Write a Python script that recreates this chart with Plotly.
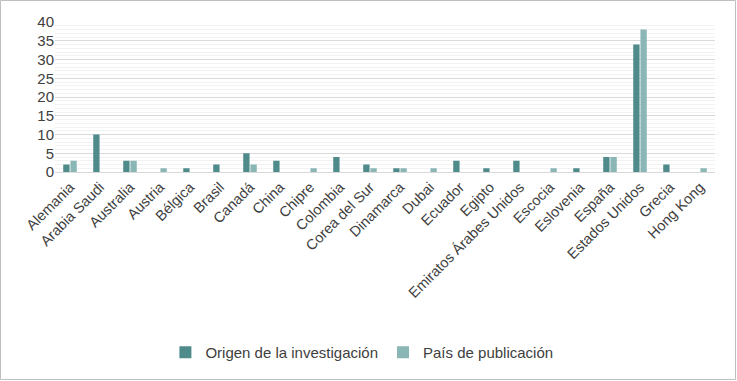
import plotly.graph_objects as go

categories = ["Alemania", "Arabia Saudi", "Australia", "Austria", "Bélgica", "Brasil",
              "Canadá", "China", "Chipre", "Colombia", "Corea del Sur", "Dinamarca",
              "Dubai", "Ecuador", "Egipto", "Emiratos Árabes Unidos", "Escocia",
              "Eslovenia", "España", "Estados Unidos", "Grecia", "Hong Kong"]
origen = [2, 10, 3, 0, 1, 2, 5, 3, 0, 4, 2, 1, 0, 3, 1, 3, 0, 1, 4, 34, 2, 0]
publicacion = [3, 0, 3, 1, 0, 0, 2, 0, 1, 0, 1, 1, 1, 0, 0, 0, 1, 0, 4, 38, 0, 1]
y_ticks = [0, 5, 10, 15, 20, 25, 30, 35, 40]

W, H = 737, 381
ml, mr, mt, mb = 55, 22, 22, 209
pw, ph = W - ml - mr, H - mt - mb

fig = go.Figure()
fig.add_trace(go.Bar(x=categories, y=origen, name="Origen de la investigación",
                     marker=dict(color="#4f8b8b", line=dict(width=0))))
fig.add_trace(go.Bar(x=categories, y=publicacion, name="País de publicación",
                     marker=dict(color="#8bb6b6", line=dict(width=0))))

fig.update_layout(
    width=W, height=H,
    margin=dict(l=ml, r=mr, t=mt, b=mb, autoexpand=False),
    paper_bgcolor="white", plot_bgcolor="white",
    barmode="group", bargap=0.52, bargroupgap=0.12,
    font=dict(family="Liberation Sans, Arial, sans-serif", size=14, color="#404040"),
    showlegend=True,
    legend=dict(orientation="h", x=0.465, xanchor="center", yref="container",
                y=0.075, yanchor="middle", font=dict(size=15, color="#404040"),
                itemwidth=30, traceorder="normal"),
    xaxis=dict(tickangle=-45, showgrid=False, showline=True, linecolor="#d9d9d9",
               linewidth=1, ticks="", tickfont=dict(size=14.5), automargin=False),
    yaxis=dict(range=[0, 40], tickvals=y_ticks, showgrid=True, gridcolor="#d9d9d9",
               gridwidth=1, zeroline=False, showline=False, ticks="",
               tickfont=dict(size=15), automargin=False,
               minor=dict(dtick=1, showgrid=True, gridcolor="#f2f2f2", gridwidth=1)),
    shapes=[dict(type="rect", xref="paper", yref="paper",
                 x0=-(ml - 0.5) / pw, x1=1 + (mr - 1.5) / pw,
                 y0=-(mb - 1.5) / ph, y1=1 + (mt - 0.5) / ph,
                 line=dict(color="#bfbfbf", width=1), fillcolor="rgba(0,0,0,0)",
                 layer="below")],
)

fig.write_html("out.html", config={"displayModeBar": False},
               post_script="document.body.style.margin='0';document.body.style.overflow='hidden';")
